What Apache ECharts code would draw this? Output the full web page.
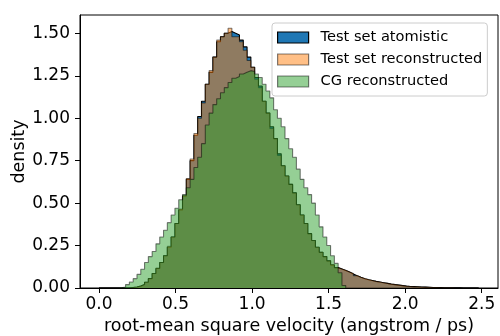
<!DOCTYPE html>
<html><head><meta charset="utf-8">
<script src="https://cdn.jsdelivr.net/npm/echarts@6/dist/echarts.min.js"></script>
<style>html,body{margin:0;padding:0;background:#fff}#c{width:500px;height:336px}</style>
</head><body><div id="c"></div>
<script>
const binStart = 0;
const binWidth = 0.0248;
const xTicks = [0, 0.5, 1.0, 1.5, 2.0, 2.5];
const yTicks = [0, 0.25, 0.5, 0.75, 1.0, 1.25, 1.5];
const seriesNames = ['Test set atomistic', 'Test set reconstructed', 'CG reconstructed'];
const xTitle = 'root-mean square velocity (angstrom / ps)';
const yTitle = 'density';

const atomistic = [0,0,0,0,0,0,0,0,
0.003,0.006,0.011,0.02,0.034,0.055,0.085,0.115,
0.15,0.19,0.24,0.30,0.38,0.46,0.54,0.64,
0.75,0.90,1.01,1.10,1.20,1.27,1.36,1.45,
1.48,1.50,1.51,1.50,1.49,1.46,1.42,1.36,
1.30,1.24,1.19,1.10,1.03,0.95,0.88,0.79,
0.72,0.66,0.61,0.56,0.49,0.43,0.38,0.32,
0.28,0.24,0.21,0.185,0.16,0.135,0.12,0.112,
0.103,0.094,0.083,0.072,0.063,0.055,0.049,0.044,
0.039,0.035,0.031,0.027,0.023,0.02,0.017,0.014,
0.011,0.009,0.008,0.007,0.006,0.005,0.004,0.003,
0.0025,0.002,0.0015,0.001,0.001,0.0006,0.0005,0.0003,
0.0002,0.0001,0.0001,0.0001];

const reconstructed = [0,0,0,0,0,0,0,0,
0.003,0.006,0.012,0.021,0.034,0.056,0.085,0.117,
0.15,0.19,0.245,0.30,0.38,0.465,0.545,0.645,
0.76,0.91,1.00,1.09,1.20,1.28,1.36,1.46,
1.48,1.50,1.53,1.48,1.48,1.45,1.40,1.34,
1.30,1.23,1.18,1.10,1.03,0.94,0.88,0.78,
0.72,0.66,0.61,0.56,0.49,0.43,0.38,0.32,
0.28,0.24,0.21,0.185,0.16,0.138,0.12,0.112,
0.104,0.094,0.086,0.073,0.063,0.056,0.05,0.044,
0.039,0.035,0.031,0.027,0.023,0.02,0.017,0.014,
0.011,0.009,0.008,0.007,0.006,0.005,0.004,0.003,
0.0025,0.002,0.0015,0.001,0.001,0.0006,0.0005,0.0003,
0.0002,0.0001,0.0001,0.0001];

const cgReconstructed = [0,0,0,0,0,0.001,0.006,0.02,
0.035,0.055,0.08,0.11,0.15,0.185,0.215,0.26,
0.30,0.34,0.385,0.43,0.47,0.52,0.55,0.59,
0.64,0.71,0.77,0.85,0.96,1.03,1.08,1.115,
1.15,1.18,1.21,1.235,1.245,1.26,1.27,1.28,
1.275,1.26,1.24,1.20,1.16,1.12,1.05,1.00,
0.95,0.88,0.82,0.77,0.70,0.64,0.59,0.55,
0.50,0.43,0.36,0.30,0.25,0.19,0.145,0.09,
0.015,0,0,0,0,0,0,0,
0,0,0,0,0,0,0,0,
0,0,0,0,0,0,0,0,
0,0,0,0,0,0,0,0,
0,0,0,0];

function stepData(vals) {
  const pts = vals.map((v, i) => [binStart + i * binWidth, v]);
  pts.push([binStart + vals.length * binWidth, vals[vals.length - 1]]);
  pts.push([binStart + vals.length * binWidth, 0]);
  return pts;
}

const FONT = 'DejaVu Sans';
const styles = [
  {fill: '#1f77b4', fillOpacity: 1, edge: '#000000', legendFill: '#1f77b4', legendEdge: '#000000'},
  {fill: '#ff7f0e', fillOpacity: 0.5, edge: 'rgba(0,0,0,0.5)', legendFill: 'rgba(255,127,14,0.5)', legendEdge: 'rgba(0,0,0,0.5)'},
  {fill: '#2ca02c', fillOpacity: 0.5, edge: 'rgba(0,0,0,0.5)', legendFill: 'rgba(44,160,44,0.5)', legendEdge: 'rgba(0,0,0,0.5)'}
];
const allData = [atomistic, reconstructed, cgReconstructed];

const chart = echarts.init(document.getElementById('c'), null, {renderer: 'canvas'});
chart.setOption({
  animation: false,
  backgroundColor: '#ffffff',
  grid: {left: 80, right: 2, top: 15, bottom: 48, show: true, borderColor: '#000', borderWidth: 1,
    backgroundColor: 'transparent', containLabel: false, outerBoundsMode: 'none'},
  legend: {
    left: 272, top: 23, orient: 'vertical',
    icon: 'rect', itemWidth: 31, itemHeight: 11, itemGap: 5,
    padding: [6, 5, 6, 5],
    backgroundColor: 'rgba(255,255,255,0.8)', borderColor: '#cccccc', borderWidth: 1, borderRadius: 3,
    formatter: '{t|{name}}',
    textStyle: {fontFamily: FONT, fontSize: 14.6, color: '#000', lineHeight: 17,
      rich: {t: {fontFamily: FONT, fontSize: 14.6, color: '#000', lineHeight: 17, padding: [0, 0, 0, 7]}}},
    data: seriesNames.map((n, k) => ({name: n, itemStyle: {color: styles[k].legendFill, borderColor: styles[k].legendEdge, borderWidth: 1.2}}))
  },
  xAxis: {
    type: 'value', min: -0.1241, max: 2.6065,
    name: xTitle, nameLocation: 'middle', nameGap: 23,
    nameTextStyle: {fontFamily: FONT, fontSize: 17.5, color: '#000'},
    axisLine: {show: true, onZero: false, lineStyle: {color: '#000', width: 1}},
    axisTick: {show: true, inside: false, length: 5, customValues: xTicks, lineStyle: {color: '#000', width: 1}},
    axisLabel: {customValues: xTicks, margin: 8, fontFamily: FONT, fontSize: 17, color: '#000', formatter: v => v.toFixed(1)},
    splitLine: {show: false}
  },
  yAxis: {
    type: 'value', min: 0, max: 1.6078,
    name: yTitle, nameLocation: 'middle', nameGap: 52, nameRotate: 90, nameMoveOverlap: false,
    nameTextStyle: {fontFamily: FONT, fontSize: 17.5, color: '#000'},
    axisLine: {show: true, onZero: false, lineStyle: {color: '#000', width: 1}},
    axisTick: {show: true, inside: false, length: 5, customValues: yTicks, lineStyle: {color: '#000', width: 1}},
    axisLabel: {customValues: yTicks, margin: 10, fontFamily: FONT, fontSize: 17, color: '#000', formatter: v => v.toFixed(2)},
    splitLine: {show: false}
  },
  series: allData.map((vals, k) => ({
    name: seriesNames[k], type: 'line', step: 'end', symbol: 'none', z: 2 + k,
    data: stepData(vals),
    lineStyle: {color: styles[k].edge, width: 1.1},
    itemStyle: {color: styles[k].legendFill},
    areaStyle: {color: styles[k].fill, opacity: styles[k].fillOpacity, origin: 'start'}
  }))
});
</script></body></html>
